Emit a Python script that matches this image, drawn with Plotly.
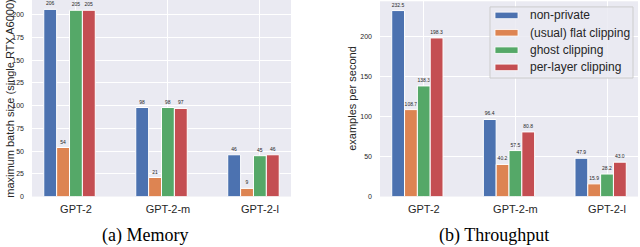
import plotly.graph_objects as go

# ---------------- data ----------------
categories = ["GPT-2", "GPT-2-m", "GPT-2-l"]
methods = ["non-private", "(usual) flat clipping", "ghost clipping", "per-layer clipping"]
colors = ["#4C72B0", "#DD8452", "#55A868", "#C44E52"]

mem_nonprivate = [206, 98, 46]
mem_flat = [54, 21, 9]
mem_ghost = [205, 98, 45]
mem_perlayer = [205, 97, 46]

thr_nonprivate = [232.5, 96.4, 47.9]
thr_flat = [108.7, 40.2, 15.9]
thr_ghost = [138.3, 57.5, 28.2]
thr_perlayer = [198.3, 80.8, 43.0]

mem_ticks = [0, 25, 50, 75, 100, 125, 150, 175, 200]
thr_ticks = [0, 50, 100, 150, 200]

memory = [mem_nonprivate, mem_flat, mem_ghost, mem_perlayer]
throughput = [thr_nonprivate, thr_flat, thr_ghost, thr_perlayer]

# ---------------- layout helpers ----------------
W, H = 640, 247
BAR_W = 0.14
TXT = "#262626"
FONT = "Liberation Sans, Arial, sans-serif"


def px(x):
    return x / W


def py(y):
    return 1 - y / H


fig = go.Figure()

for k, name in enumerate(methods):
    off = (k - 2) * BAR_W - BAR_W / 2
    fig.add_trace(go.Bar(
        x=categories, y=memory[k], name=name, xaxis="x", yaxis="y",
        width=BAR_W, offset=off,
        marker=dict(color=colors[k], line=dict(color="white", width=1)),
        text=[f"{v:.0f}" for v in memory[k]], textposition="outside",
        constraintext="none", cliponaxis=False,
        textfont=dict(size=5, color=TXT, family=FONT),
        showlegend=False, hoverinfo="skip",
    ))
    fig.add_trace(go.Bar(
        x=categories, y=throughput[k], name=name, xaxis="x2", yaxis="y2",
        width=BAR_W, offset=off,
        marker=dict(color=colors[k], line=dict(color="white", width=1)),
        text=[f"{v:.1f}" for v in throughput[k]], textposition="outside",
        constraintext="none", cliponaxis=False,
        textfont=dict(size=5, color=TXT, family=FONT),
        showlegend=False, hoverinfo="skip",
    ))

xrange = [-2 * BAR_W - BAR_W / 2 - 0.128, 2 + BAR_W + BAR_W / 2 + 0.128]

axis_common = dict(showgrid=True, gridcolor="white", gridwidth=1, zeroline=False,
                   showline=False, ticks="")

fig.update_layout(
    width=W, height=H, margin=dict(l=0, r=0, t=0, b=0),
    paper_bgcolor="white", plot_bgcolor="#EAEAF2",
    barmode="overlay", showlegend=False,
    font=dict(family=FONT, color=TXT),
    xaxis=dict(domain=[px(32), px(291)], anchor="y", type="category", range=xrange,
               tickfont=dict(size=11, color=TXT), ticklabelstandoff=4, **axis_common),
    yaxis=dict(domain=[py(199), py(0)], anchor="x", range=[0, 216.3],
               tickvals=mem_ticks, tickfont=dict(size=7, color=TXT),
               ticklabelstandoff=7, **axis_common),
    xaxis2=dict(domain=[px(380), px(638)], anchor="y2", type="category", range=xrange,
                tickfont=dict(size=11, color=TXT), ticklabelstandoff=4, **axis_common),
    yaxis2=dict(domain=[py(199), py(1.3)], anchor="x2", range=[0, 244.1],
                tickvals=thr_ticks, tickfont=dict(size=7, color=TXT),
                ticklabelstandoff=7, **axis_common),
)

annotations = [
    dict(text="maximum batch size (single RTX A6000)", x=px(10), y=py(100), xref="paper", yref="paper",
         textangle=-90, showarrow=False, font=dict(size=11, color=TXT, family=FONT),
         xanchor="center", yanchor="middle"),
    dict(text="examples per second", x=px(352), y=py(100), xref="paper", yref="paper",
         textangle=-90, showarrow=False, font=dict(size=11, color=TXT, family=FONT),
         xanchor="center", yanchor="middle"),
    dict(text="(a) Memory", x=px(145), y=py(238), xref="paper", yref="paper",
         showarrow=False, font=dict(size=18, color="black", family="Liberation Serif, Times New Roman, serif"),
         xanchor="center", yanchor="middle"),
    dict(text="(b) Throughput", x=px(494), y=py(238), xref="paper", yref="paper",
         showarrow=False, font=dict(size=18, color="black", family="Liberation Serif, Times New Roman, serif"),
         xanchor="center", yanchor="middle"),
]

shapes = [
    dict(type="rect", xref="paper", yref="paper", x0=px(490), x1=px(633), y0=py(79), y1=py(7),
         fillcolor="rgba(234,234,242,0.85)", line=dict(color="#CCCCCC", width=1), layer="above"),
]
row_y = [15.6, 33.2, 50.8, 68.2]
for k, name in enumerate(methods):
    shapes.append(dict(type="rect", xref="paper", yref="paper",
                       x0=px(495), x1=px(518), y0=py(row_y[k] + 3.3), y1=py(row_y[k] - 3.3),
                       fillcolor=colors[k], line=dict(color="white", width=0.8), layer="above"))
    annotations.append(dict(text=name, x=px(528), y=py(row_y[k]), xref="paper", yref="paper",
                            showarrow=False, xanchor="left", yanchor="middle",
                            font=dict(size=12, color=TXT, family=FONT)))

fig.update_layout(annotations=annotations, shapes=shapes)

fig.write_html("out.html", config={"displayModeBar": False},
               post_script="document.body.style.margin='0';")
